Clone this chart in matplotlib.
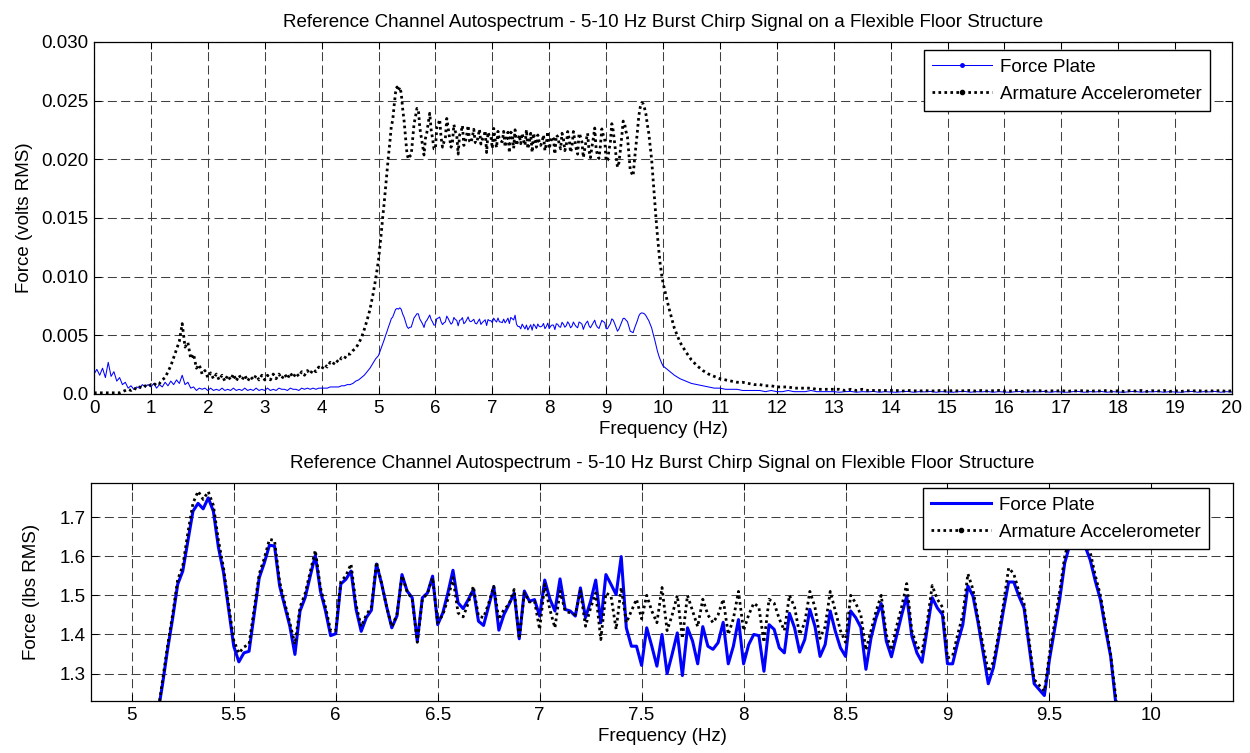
import numpy as np
import matplotlib
matplotlib.use('Agg')
import matplotlib.pyplot as plt
from matplotlib.lines import Line2D

plt.rcParams['font.family'] = ['Liberation Sans', 'DejaVu Sans']
plt.rcParams['lines.scale_dashes'] = False
FS = 13.5

# ---------------- data ----------------
# low band (0 - 4.95 Hz, 0.05 Hz step), volts RMS
freq_lo = np.round(np.arange(100) * 0.05, 3)
force_lo_v = [
    0.0017, 0.0021, 0.0016, 0.0022, 0.0014, 0.0027, 0.0015, 0.0019, 0.0011, 0.0014,
    0.0008, 0.0010, 0.0005, 0.0007, 0.0004, 0.0006, 0.0005, 0.0008, 0.0006, 0.0008,
    0.0006, 0.0009, 0.0005, 0.0008, 0.0006, 0.0010, 0.0007, 0.0011, 0.0008, 0.0012,
    0.0009, 0.0016, 0.0008, 0.0010, 0.0005, 0.0006, 0.0003, 0.0005, 0.0004, 0.0005,
    0.0003, 0.0005, 0.0003, 0.0004, 0.0003, 0.0005, 0.0003, 0.0004, 0.0003, 0.0005,
    0.0003, 0.0004, 0.0003, 0.0005, 0.0003, 0.0004, 0.0003, 0.0005, 0.0003, 0.0004,
    0.0003, 0.0005, 0.0003, 0.0004, 0.0003, 0.0005, 0.0004, 0.0004, 0.0003, 0.0005,
    0.0004, 0.0004, 0.0003, 0.0005, 0.0004, 0.0005, 0.0004, 0.0005, 0.0004, 0.0005,
    0.0005, 0.0005, 0.0005, 0.0006, 0.0006, 0.0006, 0.0006, 0.0007, 0.0007, 0.0008,
    0.0008, 0.0009, 0.0011, 0.0012, 0.0014, 0.0016, 0.0019, 0.0022, 0.0026, 0.0030,
]
accel_lo_v = [
    0.0001, 0.0001, 0.0001, 0.0001, 0.0001, 0.0001, 0.0001, 0.0001, 0.0001, 0.0001,
    0.0002, 0.0003, 0.0004, 0.0003, 0.0005, 0.0004, 0.0006, 0.0005, 0.0007, 0.0006,
    0.0008, 0.0007, 0.0010, 0.0009, 0.0012, 0.0014, 0.0019, 0.0024, 0.0031, 0.0038,
    0.0045, 0.0060, 0.0040, 0.0044, 0.0030, 0.0034, 0.0022, 0.0025, 0.0017, 0.0020,
    0.0014, 0.0018, 0.0013, 0.0017, 0.0012, 0.0016, 0.0011, 0.0016, 0.0012, 0.0017,
    0.0011, 0.0016, 0.0012, 0.0016, 0.0011, 0.0015, 0.0012, 0.0016, 0.0012, 0.0016,
    0.0012, 0.0016, 0.0012, 0.0017, 0.0013, 0.0017, 0.0013, 0.0017, 0.0013, 0.0018,
    0.0014, 0.0018, 0.0015, 0.0019, 0.0016, 0.0020, 0.0017, 0.0021, 0.0019, 0.0023,
    0.0021, 0.0025, 0.0023, 0.0027, 0.0025, 0.0029, 0.0027, 0.0031, 0.0030, 0.0034,
    0.0034, 0.0037, 0.0039, 0.0043, 0.0048, 0.0055, 0.0063, 0.0072, 0.0084, 0.0098,
]

# excitation band (5.0 - 10.0 Hz, 0.025 Hz step), lbs RMS
freq_band = np.round(5.0 + np.arange(201) * 0.025, 4)
force_band_lbs = [
    0.78, 0.86, 0.94, 1.02, 1.10, 1.19, 1.27, 1.36, 1.44, 1.528,
    1.562, 1.639, 1.715, 1.735, 1.721, 1.749, 1.715, 1.622, 1.558, 1.464,
    1.370, 1.330, 1.353, 1.357, 1.451, 1.545, 1.583, 1.628, 1.626, 1.524,
    1.472, 1.421, 1.349, 1.460, 1.494, 1.549, 1.602, 1.511, 1.460, 1.397,
    1.402, 1.529, 1.541, 1.562, 1.464, 1.408, 1.443, 1.462, 1.580, 1.530,
    1.470, 1.417, 1.447, 1.553, 1.511, 1.494, 1.383, 1.494, 1.506, 1.549,
    1.425, 1.455, 1.506, 1.564, 1.481, 1.466, 1.489, 1.515, 1.434, 1.423,
    1.472, 1.522, 1.411, 1.451, 1.477, 1.506, 1.389, 1.511, 1.485, 1.489,
    1.447, 1.539, 1.491, 1.460, 1.542, 1.464, 1.460, 1.447, 1.519, 1.443,
    1.485, 1.539, 1.430, 1.553, 1.528, 1.502, 1.599, 1.417, 1.370, 1.370,
    1.321, 1.417, 1.370, 1.319, 1.400, 1.300, 1.350, 1.404, 1.295, 1.417,
    1.383, 1.325, 1.420, 1.370, 1.362, 1.379, 1.431, 1.325, 1.370, 1.438,
    1.325, 1.374, 1.400, 1.397, 1.306, 1.425, 1.413, 1.366, 1.353, 1.454,
    1.417, 1.355, 1.387, 1.464, 1.421, 1.344, 1.374, 1.460, 1.408, 1.366,
    1.344, 1.460, 1.443, 1.418, 1.311, 1.391, 1.443, 1.479, 1.383, 1.343,
    1.396, 1.449, 1.498, 1.396, 1.353, 1.329, 1.413, 1.494, 1.468, 1.451,
    1.325, 1.325, 1.379, 1.425, 1.524, 1.498, 1.430, 1.353, 1.274, 1.315,
    1.387, 1.464, 1.534, 1.534, 1.498, 1.468, 1.370, 1.274, 1.259, 1.244,
    1.336, 1.413, 1.489, 1.583, 1.630, 1.645, 1.640, 1.625, 1.590, 1.536,
    1.489, 1.413, 1.344, 1.225, 1.12, 1.00, 0.88, 0.78, 0.70, 0.63,
    0.57,
]
accel_band_lbs = [
    0.77, 0.85, 0.93, 1.02, 1.10, 1.19, 1.28, 1.37, 1.45, 1.54,
    1.575, 1.66, 1.735, 1.766, 1.745, 1.765, 1.73, 1.64, 1.57, 1.475,
    1.385, 1.352, 1.368, 1.375, 1.465, 1.555, 1.595, 1.643, 1.64, 1.535,
    1.48, 1.43, 1.375, 1.47, 1.505, 1.56, 1.615, 1.52, 1.47, 1.41,
    1.41, 1.535, 1.55, 1.58, 1.475, 1.42, 1.45, 1.47, 1.585, 1.53,
    1.47, 1.42, 1.45, 1.55, 1.51, 1.49, 1.38, 1.49, 1.505, 1.545,
    1.43, 1.45, 1.49, 1.545, 1.455, 1.445, 1.48, 1.523, 1.447, 1.443,
    1.48, 1.523, 1.438, 1.464, 1.477, 1.515, 1.389, 1.506, 1.483, 1.485,
    1.413, 1.528, 1.464, 1.417, 1.511, 1.46, 1.455, 1.451, 1.511, 1.421,
    1.468, 1.506, 1.387, 1.506, 1.498, 1.413, 1.52, 1.43, 1.46, 1.49,
    1.44, 1.50, 1.46, 1.43, 1.52, 1.41, 1.45, 1.50, 1.39, 1.50,
    1.46, 1.42, 1.49, 1.45, 1.43, 1.45, 1.49, 1.40, 1.44, 1.51,
    1.41, 1.45, 1.48, 1.47, 1.38, 1.49, 1.48, 1.44, 1.41, 1.50,
    1.47, 1.40, 1.43, 1.51, 1.47, 1.39, 1.42, 1.51, 1.46, 1.41,
    1.38, 1.50, 1.48, 1.45, 1.36, 1.41, 1.46, 1.50, 1.40, 1.36,
    1.42, 1.47, 1.53, 1.41, 1.37, 1.355, 1.43, 1.525, 1.49, 1.47,
    1.34, 1.345, 1.40, 1.45, 1.555, 1.515, 1.44, 1.37, 1.305, 1.33,
    1.40, 1.48, 1.57, 1.555, 1.51, 1.48, 1.385, 1.285, 1.27, 1.255,
    1.35, 1.43, 1.51, 1.60, 1.65, 1.675, 1.67, 1.645, 1.61, 1.55,
    1.50, 1.425, 1.35, 1.24, 1.13, 1.02, 0.92, 0.83, 0.75, 0.69,
    0.64,
]

# high band (10.1 - 20.0 Hz, 0.1 Hz step), volts RMS
freq_hi = np.round(10.1 + np.arange(100) * 0.1, 2)
force_hi_v = [
    0.0020, 0.0016, 0.0013, 0.0011, 0.0009, 0.0008, 0.0007, 0.0006, 0.0005, 0.0005,
    0.0004, 0.0004, 0.0004, 0.0003, 0.0003, 0.0003, 0.0003, 0.0002, 0.0003, 0.0002,
    0.0002, 0.0003, 0.0002, 0.0002, 0.0002, 0.0003, 0.0002, 0.0002, 0.0002, 0.0002,
    0.00015, 0.0002, 0.00022, 0.00015, 0.0002, 0.00018, 0.00022, 0.00015, 0.0002, 0.00017,
    0.00015, 0.0002, 0.00022, 0.00015, 0.0002, 0.00018, 0.00022, 0.00015, 0.0002, 0.00017,
    0.00015, 0.0002, 0.00022, 0.00015, 0.0002, 0.00018, 0.00022, 0.00015, 0.0002, 0.00017,
    0.00015, 0.0002, 0.00022, 0.00015, 0.0002, 0.00018, 0.00022, 0.00015, 0.0002, 0.00017,
    0.00015, 0.0002, 0.00022, 0.00015, 0.0002, 0.00018, 0.00022, 0.00015, 0.0002, 0.00017,
    0.00015, 0.0002, 0.00022, 0.00015, 0.0002, 0.00018, 0.00022, 0.00015, 0.0002, 0.00017,
    0.00015, 0.0002, 0.00022, 0.00015, 0.0002, 0.00018, 0.00022, 0.00015, 0.0002, 0.00017,
]
accel_hi_v = [
    0.0074, 0.0056, 0.0044, 0.0036, 0.0029, 0.0024, 0.0020, 0.0017, 0.0015, 0.0013,
    0.0012, 0.0011, 0.0010, 0.0010, 0.0009, 0.0008, 0.0008, 0.0007, 0.0007, 0.0006,
    0.0006, 0.0006, 0.0005, 0.0005, 0.0005, 0.0005, 0.0004, 0.0004, 0.0004, 0.0004,
    0.0004, 0.0003, 0.0004, 0.0003, 0.0004, 0.0003, 0.0003, 0.0003, 0.0003, 0.0003,
    0.0003, 0.00025, 0.0003, 0.00028, 0.00025, 0.0003, 0.00025, 0.00028, 0.0003, 0.00025,
    0.0003, 0.00025, 0.00028, 0.0003, 0.00025, 0.0003, 0.00025, 0.00028, 0.0003, 0.00025,
    0.00025, 0.0003, 0.00022, 0.00028, 0.00025, 0.0003, 0.00022, 0.00028, 0.00025, 0.0003,
    0.00022, 0.00028, 0.00025, 0.0003, 0.00022, 0.00028, 0.00025, 0.0003, 0.00022, 0.00028,
    0.00022, 0.00028, 0.00025, 0.0003, 0.00022, 0.00028, 0.00025, 0.0003, 0.00022, 0.00028,
    0.00022, 0.00028, 0.00025, 0.0003, 0.00022, 0.00028, 0.00025, 0.0003, 0.00022, 0.00028,
]

# sensor sensitivities (lbs per volt) linking the two panels
FP_LBS_PER_V = 238.0
ACC_LBS_PER_V = 67.5

# ---------------- assemble top-panel series ----------------
f_top = np.concatenate([freq_lo, freq_band, freq_hi])
force_top = np.concatenate([force_lo_v, np.array(force_band_lbs) / FP_LBS_PER_V, force_hi_v])
accel_top = np.concatenate([accel_lo_v, np.array(accel_band_lbs) / ACC_LBS_PER_V, accel_hi_v])

BLUE = '#0000ff'
DOT = (0, (1.9, 2.4))
GRID_LS = (0, (6.5, 3.1))

W, H = 1250, 753
fig = plt.figure(figsize=(W / 100, H / 100), dpi=100)
ax1 = fig.add_axes([94 / W, 1 - 394 / H, (1232 - 94) / W, (394 - 42) / H])
ax2 = fig.add_axes([91 / W, 1 - 701 / H, (1233 - 91) / W, (701 - 483) / H])


def style(ax):
    ax.grid(True, color='#404040', linestyle=GRID_LS, linewidth=0.75)
    ax.set_axisbelow(True)
    ax.tick_params(direction='in', length=5, width=0.75, top=True, right=True,
                   labelsize=FS, pad=4, colors='black')
    for s in ax.spines.values():
        s.set_linewidth(0.9)
        s.set_color('black')


LEG_KW = dict(loc='upper right', borderaxespad=0, fontsize=FS, fancybox=False,
              framealpha=1, edgecolor='black', handlelength=3.2, handletextpad=0.4,
              borderpad=0.45, labelspacing=0.55, numpoints=1)

# ---- top panel ----
ax1.plot(f_top, force_top, color=BLUE, lw=0.75)
ax1.plot(f_top, accel_top, color='black', lw=2.0, linestyle=DOT)
ax1.set_xlim(0, 20)
ax1.set_ylim(0, 0.030)
ax1.set_xticks(np.arange(0, 21, 1))
ax1.set_xticklabels([str(i) for i in range(21)])
yt = [0, 0.005, 0.010, 0.015, 0.020, 0.025, 0.030]
ax1.set_yticks(yt)
ax1.set_yticklabels(['0.0', '0.005', '0.010', '0.015', '0.020', '0.025', '0.030'])
style(ax1)
ax1.set_title('Reference Channel Autospectrum - 5-10 Hz Burst Chirp Signal on a Flexible Floor Structure',
              fontsize=FS, pad=10.5)
ax1.set_xlabel('Frequency (Hz)', fontsize=FS, labelpad=3)
ax1.set_ylabel('Force (volts RMS)', fontsize=FS, labelpad=6)

h1 = [Line2D([], [], color=BLUE, lw=0.75, marker='.', markersize=5),
      Line2D([], [], color='black', lw=2.0, linestyle=DOT, marker='.', markersize=6)]
leg1 = ax1.legend(h1, ['Force Plate', 'Armature Accelerometer'],
                  bbox_to_anchor=((1210 - 94) / 1138, 1 - (50 - 42) / 352), **LEG_KW)
leg1.get_frame().set_linewidth(1.0)

# ---- bottom panel ----
ax2.plot(freq_band, force_band_lbs, color=BLUE, lw=2.2)
ax2.plot(freq_band, accel_band_lbs, color='black', lw=2.0, linestyle=DOT)
ax2.set_xlim(4.8, 10.4)
ax2.set_ylim(1.23, 1.787)
xt = np.arange(5, 10.01, 0.5)
ax2.set_xticks(xt)
ax2.set_xticklabels(['5', '5.5', '6', '6.5', '7', '7.5', '8', '8.5', '9', '9.5', '10'])
ax2.set_yticks([1.3, 1.4, 1.5, 1.6, 1.7])
ax2.set_yticklabels(['1.3', '1.4', '1.5', '1.6', '1.7'])
style(ax2)
ax2.set_title('Reference Channel Autospectrum - 5-10 Hz Burst Chirp Signal on Flexible Floor Structure',
              fontsize=FS, pad=10.5)
ax2.set_xlabel('Frequency (Hz)', fontsize=FS, labelpad=3)
ax2.set_ylabel('Force (lbs RMS)', fontsize=FS, labelpad=14)

h2 = [Line2D([], [], color=BLUE, lw=2.2),
      Line2D([], [], color='black', lw=2.0, linestyle=DOT, marker='.', markersize=6)]
leg2 = ax2.legend(h2, ['Force Plate', 'Armature Accelerometer'],
                  bbox_to_anchor=((1209 - 91) / 1142, 1 - (488 - 483) / 218), **LEG_KW)
leg2.get_frame().set_linewidth(1.0)

fig.savefig('out.png', dpi=100)
